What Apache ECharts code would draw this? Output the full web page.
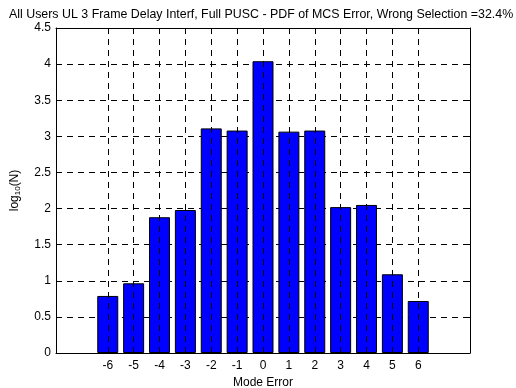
<!DOCTYPE html>
<html>
<head>
<meta charset="utf-8">
<script src="https://cdn.jsdelivr.net/npm/echarts@6/dist/echarts.min.js"></script>
<style>
  html, body { margin: 0; padding: 0; background: #fff; }
  #chart { width: 516px; height: 388px; }
</style>
</head>
<body>
<div id="chart"></div>
<script>
// mode error (x) and log10(N)
const modeErrors = [-6, -5, -4, -3, -2, -1, 0, 1, 2, 3, 4, 5, 6];
const logCounts = [0.79, 0.965, 1.88, 1.98, 3.11, 3.08, 4.04, 3.065, 3.08, 2.02, 2.05, 1.09, 0.72];

const font = 'Liberation Sans, Arial, sans-serif';
const dash = [6, 5];
const chart = echarts.init(document.getElementById('chart'));

const option = {
    animation: false,
    title: {
        text: 'All Users UL 3 Frame Delay Interf, Full PUSC - PDF of MCS Error, Wrong Selection =32.4%',
        left: 4,
        top: 4,
        textStyle: { fontFamily: font, fontSize: 12.4, fontWeight: 'normal', color: '#000' }
    },
    grid: { left: 56, right: 46, top: 28, bottom: 35, outerBoundsMode: 'none' },
    xAxis: [
        {
            type: 'value',
            min: -8,
            max: 8,
            interval: 1,
            name: 'Mode Error',
            nameLocation: 'middle',
            nameGap: 22,
            nameTextStyle: { fontFamily: font, fontSize: 12, color: '#000' },
            axisLine: { onZero: false, lineStyle: { color: '#000', width: 1 } },
            axisTick: { inside: true, length: 5, customValues: modeErrors, lineStyle: { color: '#000' } },
            axisLabel: { customValues: modeErrors, fontFamily: font, fontSize: 12, color: '#000', margin: 7 },
            splitLine: { show: false }
        },
        {
            type: 'value',
            position: 'top',
            min: -8,
            max: 8,
            interval: 1,
            axisLine: { show: true, onZero: false, lineStyle: { color: '#000', width: 1 } },
            axisTick: { inside: true, length: 5, customValues: modeErrors, lineStyle: { color: '#000' } },
            axisLabel: { show: false },
            splitLine: { show: false }
        }
    ],
    yAxis: [
        {
            type: 'value',
            min: 0,
            max: 4.5,
            interval: 0.5,
            name: 'log{sub|10}(N)',
            nameLocation: 'middle',
            nameGap: 34,
            nameRotate: 90,
            nameTextStyle: {
                fontFamily: font, fontSize: 12, color: '#000',
                rich: { sub: { fontFamily: font, fontSize: 8, color: '#000', verticalAlign: 'bottom', padding: [6, 0, 0, 0] } }
            },
            axisLine: { show: true, onZero: false, lineStyle: { color: '#000', width: 1 } },
            axisTick: { show: true, inside: true, length: 5, lineStyle: { color: '#000' } },
            axisLabel: { fontFamily: font, fontSize: 12, color: '#000', margin: 5 },
            splitLine: { show: true, showMinLine: false, showMaxLine: false, lineStyle: { color: '#000', type: dash, width: 1 } }
        },
        {
            type: 'value',
            position: 'right',
            min: 0,
            max: 4.5,
            interval: 0.5,
            axisLine: { show: true, onZero: false, lineStyle: { color: '#000', width: 1 } },
            axisTick: { show: true, inside: true, length: 5, lineStyle: { color: '#000' } },
            axisLabel: { show: false },
            splitLine: { show: false }
        }
    ],
    series: [
        {
            // dashed vertical grid at the labelled ticks only, kept behind the bars
            type: 'line',
            data: [],
            z: 1,
            markLine: {
                silent: true,
                symbol: 'none',
                label: { show: false },
                lineStyle: { color: '#000', type: dash, width: 1 },
                data: modeErrors.map(x => ({ xAxis: x }))
            }
        },
        {
            type: 'bar',
            xAxisIndex: 0,
            yAxisIndex: 0,
            barWidth: 21,
            data: modeErrors.map((x, i) => [x, logCounts[i]]),
            itemStyle: { color: '#0000ff', borderColor: '#000', borderWidth: 1 },
            z: 3
        }
    ]
};

chart.setOption(option);
</script>
</body>
</html>
